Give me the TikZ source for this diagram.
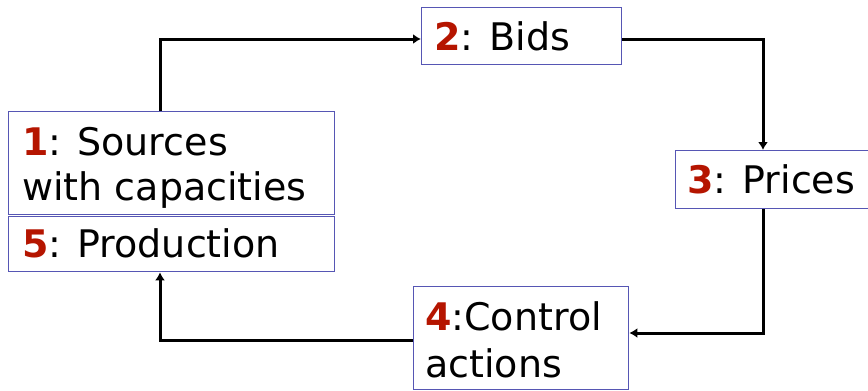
\documentclass[tikz,border=0pt]{standalone}
\usepackage{fontspec}
\setmainfont{DejaVu Sans}
\usetikzlibrary{arrows.meta}
\definecolor{numred}{HTML}{B51500}
\definecolor{boxblue}{HTML}{5656B4}
\tikzset{
  boxnode/.style={draw=boxblue, line width=1.4pt, fill=white, inner sep=0pt, anchor=north west},
  txt/.style={inner sep=0pt, anchor=base west, font=\fontsize{38}{46}\selectfont},
  conn/.style={line width=3pt, -{Latex[length=8pt,width=10pt]}},
}
\newcommand{\num}[1]{\textcolor{numred}{\bfseries #1}}
\begin{document}
\begin{tikzpicture}[x=1pt,y=-1pt]
\useasboundingbox (0,0) rectangle (868,391);
% boxes
\node[boxnode, minimum width=326pt, minimum height=102.5pt] (b1) at (8,111) {};
\node[boxnode, minimum width=326pt, minimum height=55pt] (b5) at (8,216) {};
\node[boxnode, minimum width=200pt, minimum height=57pt] (b2) at (421,7) {};
\node[boxnode, minimum width=210pt, minimum height=58pt] (b3) at (675,150) {};
\node[boxnode, minimum width=215pt, minimum height=103pt] (b4) at (413,286) {};
% texts
\node[txt] (t1a) at (22,155) {\num{1}: Sources};
\node[txt] (t1b) at (22,200) {with capacities};
\node[txt] (t5) at (22,257) {\num{5}: Production};
\node[txt] (t2) at (434,50) {\num{2}: Bids};
\node[txt] (t3) at (687,193) {\num{3}: Prices};
\node[txt] (t4a) at (425,330) {\num{4}:Control};
\node[txt] (t4b) at (425,377) {actions};
% connectors
\coordinate (c1) at (160,39);
\coordinate (c2) at (763,39);
\coordinate (c3) at (763,333);
\coordinate (c4) at (160,340);
\draw[conn] (b1.north -| c1) |- (b2.west |- c1);
\draw[conn] (b2.east |- c2) -| (b3.north -| c2);
\draw[conn] (b3.south -| c3) |- (b4.east |- c3);
\draw[conn] (b4.west |- c4) -| (b5.south -| c4);
\end{tikzpicture}
\end{document}
